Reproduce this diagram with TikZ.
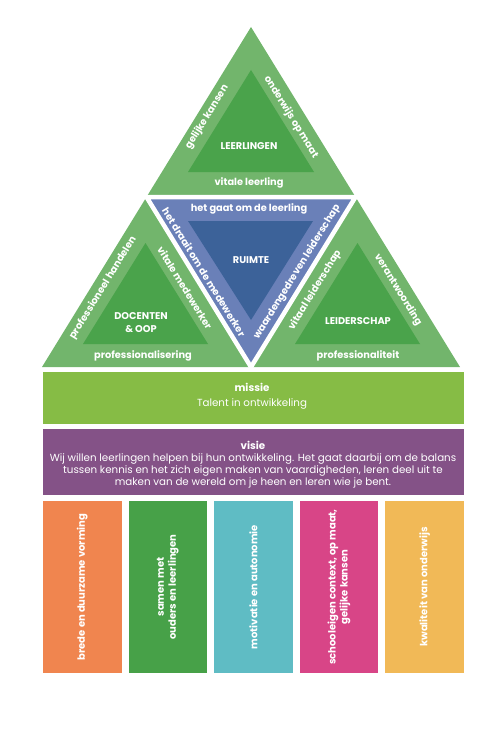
\documentclass[tikz,border=0pt]{standalone}
\usepackage{fontspec}
\setmainfont{Poppins}
\definecolor{lichtgroen}{HTML}{72B56C}
\definecolor{donkergroen}{HTML}{4AA34B}
\definecolor{lichtblauw}{HTML}{6A80B8}
\definecolor{donkerblauw}{HTML}{3C6299}
\definecolor{missiegroen}{HTML}{86BC45}
\definecolor{visiepaars}{HTML}{845287}
\definecolor{oranje}{HTML}{F0854F}
\definecolor{groen}{HTML}{47A148}
\definecolor{turkoois}{HTML}{5FBCC4}
\definecolor{roze}{HTML}{D84587}
\definecolor{geel}{HTML}{F1B957}

\begin{document}
\begin{tikzpicture}[x=1pt,y=-1pt,
    zijtekst/.style={text=white,font=\bfseries\fontsize{9.8}{11}\selectfont,inner sep=0pt},
    kern/.style={text=white,font=\bfseries\fontsize{9.8}{13}\selectfont,align=center,inner sep=0pt},
    balktekst/.style={text=white,font=\fontsize{10.3}{12}\selectfont,align=center,inner sep=0pt},
    kolomtekst/.style={text=white,font=\bfseries\fontsize{10}{12}\selectfont,align=center,rotate=90,inner sep=0pt}]
    \useasboundingbox (0,0) rectangle (500,749);
    % de driehoeken
    \fill[lichtgroen] (251,27) -- (355.5,197) -- (146.5,197) -- cycle;
    \fill[lichtgroen] (146.5,197) -- (251,367) -- (42,367) -- cycle;
    \fill[lichtgroen] (355.5,197) -- (460,367) -- (251,367) -- cycle;
    \filldraw[fill=lichtblauw,draw=white,line width=4.5pt,line join=miter]
        (146.5,197) -- (355.5,197) -- (251,367) -- cycle;
    \fill[donkergroen] (251,70) -- (314,172) -- (188,172) -- cycle;
    \fill[donkergroen] (145.5,243) -- (208,344) -- (83,344) -- cycle;
    \fill[donkergroen] (357.5,243) -- (420,344) -- (295,344) -- cycle;
    \fill[donkerblauw] (188,221) -- (313,221) -- (251,320) -- cycle;
    % leerlingen
    \node[kern] (leerlingen) at (249,146) {LEERLINGEN};
    \node[zijtekst,rotate=58.4] (kansen) at (207,117) {gelijke kansen};
    \node[zijtekst,rotate=-58.4] (maat) at (291,117) {onderwijs op maat};
    \node[zijtekst] (vitaleleerling) at (249,183) {vitale leerling};
    % docenten
    \node[kern] (docenten) at (141,323) {DOCENTEN\\\& OOP};
    \node[zijtekst,rotate=58.4] (handelen) at (103,288) {professioneel handelen};
    \node[zijtekst,rotate=-58.4] (medewerker) at (185,288) {vitale medewerker};
    \node[zijtekst] (prof) at (143,356) {professionalisering};
    % leiderschap
    \node[kern] (leiderschap) at (358,321) {LEIDERSCHAP};
    \node[zijtekst,rotate=58.4] (vitaal) at (315,290) {vitaal leiderschap};
    \node[zijtekst,rotate=-58.4] (verantw) at (398,290) {verantwoording};
    \node[zijtekst] (profit) at (358,356) {professionaliteit};
    % ruimte
    \node[kern] (ruimte) at (251,260) {RUIMTE};
    \node[zijtekst] (gaatom) at (249,209) {het gaat om de leerling};
    \node[zijtekst,rotate=-58.4] (draait) at (204,272) {het draait om de medewerker};
    \node[zijtekst,rotate=58.4] (waarden) at (297,272) {waardengedreven leiderschap};
    % missie en visie
    \fill[missiegroen] (43,372) rectangle (464,424);
    \node[balktekst,font=\fontsize{10.3}{15}\selectfont] (missie) at (252,396) {\textbf{missie}\\Talent in ontwikkeling};
    \fill[visiepaars] (43,429) rectangle (464,495);
    \node[balktekst] (visie) at (253,465) {\textbf{visie}\\Wij willen leerlingen helpen bij hun ontwikkeling. Het gaat daarbij om de balans\\tussen kennis en het zich eigen maken van vaardigheden, leren deel uit te\\maken van de wereld om je heen en leren wie je bent.};
    % de pijlers
    \foreach \i/\kleur/\tekst in {0/oranje/{brede en duurzame vorming},
        1/groen/{samen met\\ouders en leerlingen},
        2/turkoois/{motivatie en autonomie},
        3/roze/{schooleigen context, op maat,\\gelijke kansen},
        4/geel/{kwaliteit van onderwijs}}
    {
        \fill[\kleur] ({43+\i*85.6},501) rectangle ({121.6+\i*85.6},673);
        \node[kolomtekst] (kolom\i) at ({82.3+\i*85.6},587) {\tekst};
    }
\end{tikzpicture}
\end{document}
